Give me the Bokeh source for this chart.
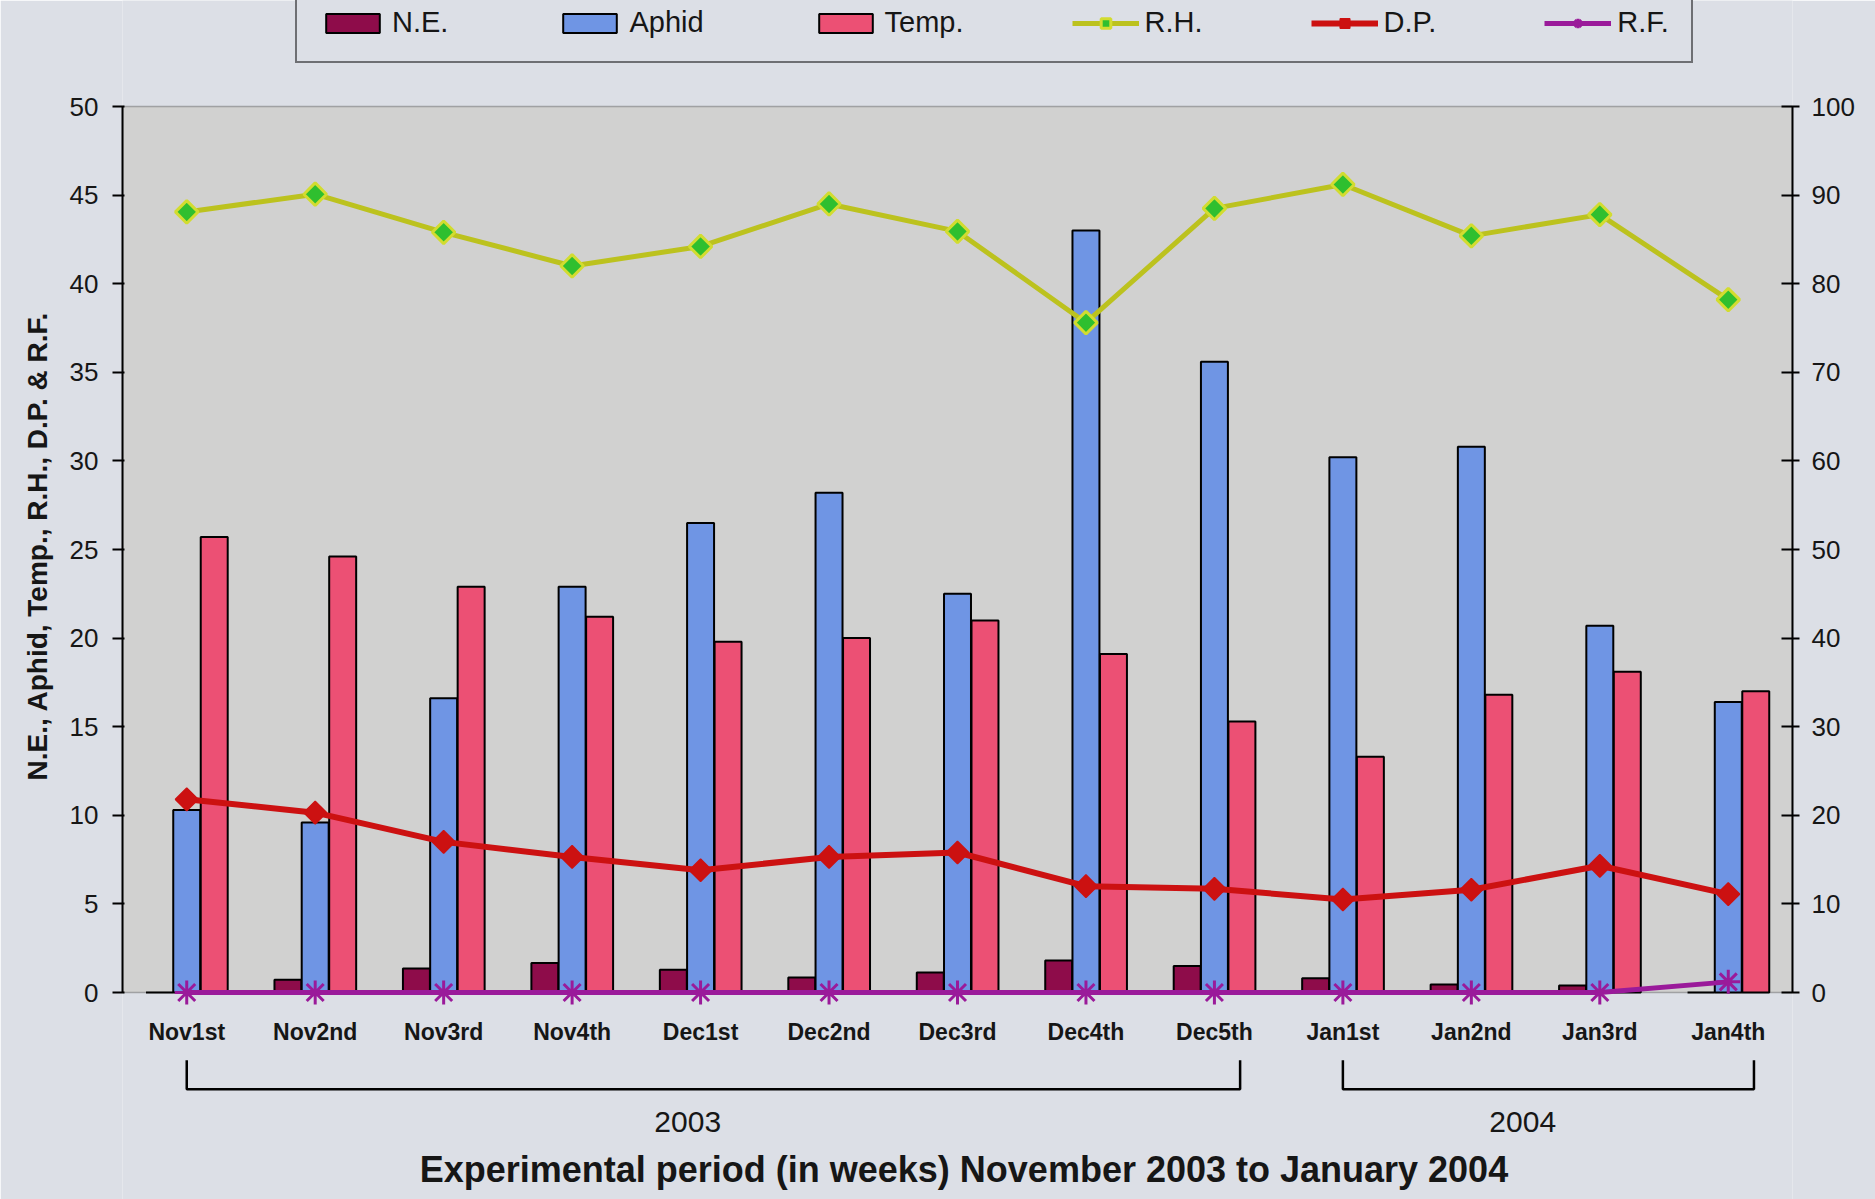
import numpy as np
from bokeh.plotting import figure
from bokeh.models import (Range1d, LinearAxis, FixedTicker, BoxAnnotation, Legend,
                          LegendItem, ColumnDataSource, Title)
from bokeh.transform import dodge
from bokeh.core.properties import value
from bokeh.embed import file_html
from bokeh.resources import INLINE

# ---------------- data ----------------
weeks = ["Nov1st", "Nov2nd", "Nov3rd", "Nov4th", "Dec1st", "Dec2nd", "Dec3rd",
         "Dec4th", "Dec5th", "Jan1st", "Jan2nd", "Jan3rd", "Jan4th"]
ne = [0.0, 0.72, 1.36, 1.66, 1.28, 0.85, 1.13, 1.8, 1.5, 0.8, 0.45, 0.4, 0.0]
aphid = [10.3, 9.6, 16.6, 22.9, 26.5, 28.2, 22.5, 43.0, 35.6, 30.2, 30.8, 20.7, 16.4]
temp = [25.7, 24.6, 22.9, 21.2, 19.8, 20.0, 21.0, 19.1, 15.3, 13.3, 16.8, 18.1, 17.0]
rh = [88.1, 90.1, 85.8, 82.0, 84.2, 89.0, 85.9, 75.6, 88.5, 91.2, 85.4, 87.8, 78.2]
dp = [21.8, 20.3, 17.0, 15.3, 13.8, 15.3, 15.8, 12.0, 11.7, 10.5, 11.6, 14.3, 11.1]
rf = [0.0, 0.0, 0.0, 0.0, 0.0, 0.0, 0.0, 0.0, 0.0, 0.0, 0.0, 0.0, 1.2]
years = ["2003", "2004"]
year_first = [0, 9]
year_last = [8, 12]
left_ticks = list(range(0, 51, 5))
right_ticks = list(range(0, 101, 10))
title = "Experimental period (in weeks) November 2003 to January 2004"
ylabel = "N.E., Aphid, Temp., R.H., D.P. & R.F."

# ---------------- style ----------------
PAGE = "#dcdfe6"
PLOT_BG = "#d1d1d0"
NE_C = "#8e0c4a"
APH_C = "#6f95e4"
TMP_C = "#ec5074"
RH_C = "#bcc21e"
RH_M = "#2fbf2f"
DP_C = "#cc1111"
RF_C = "#9a1a9a"
TXT = "#161616"
FONT = "Liberation Sans"

W, H = 1875, 1199
BL, BR = 122, 83
PX = 17.72          # pixels per left-axis unit
TOP_PX, ZERO_PX = 106, 992
y_top = 50 + TOP_PX / PX
y_bot = -(H - ZERO_PX) / PX

n = len(weeks)
xc = np.arange(n) + 0.5
src = ColumnDataSource(dict(x=xc, ne=ne, aphid=aphid, temp=temp, rh=rh, dp=dp, rf=rf))

p = figure(width=W, height=H, x_range=Range1d(0, n), y_range=Range1d(y_bot, y_top),
           x_axis_location=None, y_axis_location="left", toolbar_location=None,
           output_backend="svg", min_border_left=BL, min_border_right=BR,
           min_border_top=0, min_border_bottom=0, background_fill_color=PAGE,
           border_fill_color=PAGE, outline_line_color=None)
p.grid.visible = False

p.extra_y_ranges = {"r": Range1d(2 * y_bot, 2 * y_top)}

# plot area
p.add_layout(BoxAnnotation(bottom=0, top=50, fill_color=PLOT_BG, fill_alpha=1.0,
                           line_color="#222222", line_width=1.5, level="underlay"))

# left axis
ya = p.yaxis[0]
ya.bounds = (0, 50)
ya.ticker = FixedTicker(ticks=left_ticks)
ya.major_label_text_font = FONT
ya.major_label_text_font_size = "26px"
ya.major_label_text_color = TXT
ya.major_label_standoff = 14
ya.axis_line_width = 2
ya.axis_line_color = "black"
ya.major_tick_in = 2
ya.major_tick_out = 10
ya.major_tick_line_width = 2
ya.minor_tick_line_color = None

# vertical axis title, placed beside the 0-50 span
p.add_layout(Title(text=ylabel, align="left", offset=419, standoff=24, vertical_align="top",
                   text_font=FONT, text_font_style="bold", text_font_size="28px",
                   text_color=TXT), "left")

# right axis
ra = LinearAxis(y_range_name="r", bounds=(0, 100), ticker=FixedTicker(ticks=right_ticks))
ra.major_label_text_font = FONT
ra.major_label_text_font_size = "26px"
ra.major_label_text_color = TXT
ra.major_label_standoff = 12
ra.axis_line_width = 2
ra.major_tick_in = 11
ra.major_tick_out = 7
ra.major_tick_line_width = 2
ra.minor_tick_line_color = None
p.add_layout(ra, "right")

# bars
BW = 0.21
r_ne = p.vbar(x=dodge("x", -0.212, range=p.x_range), top="ne", bottom=0, width=BW, source=src,
              fill_color=NE_C, line_color="black", line_width=2)
r_aph = p.vbar(x="x", top="aphid", bottom=0, width=BW, source=src,
               fill_color=APH_C, line_color="black", line_width=2)
r_tmp = p.vbar(x=dodge("x", 0.214, range=p.x_range), top="temp", bottom=0, width=BW, source=src,
               fill_color=TMP_C, line_color="black", line_width=2)

# lines
r_rf_l = p.line("x", "rf", source=src, y_range_name="r", line_color=RF_C, line_width=5)
r_rf_m = p.scatter("x", "rf", source=src, y_range_name="r", marker="asterisk", size=24,
                   line_color=RF_C, line_width=3)
r_dp_l = p.line("x", "dp", source=src, y_range_name="r", line_color=DP_C, line_width=6)
r_dp_m = p.scatter("x", "dp", source=src, y_range_name="r", marker="square", angle=np.pi / 4,
                   size=16, fill_color=DP_C, line_color=DP_C, line_width=1.5)
r_rh_l = p.line("x", "rh", source=src, y_range_name="r", line_color=RH_C, line_width=5)
r_rh_m = p.scatter("x", "rh", source=src, y_range_name="r", marker="square", angle=np.pi / 4,
                   size=16, fill_color=RH_M, line_color="#d2dc30", line_width=3)

# category labels
p.text(x=xc, y=[-2.25] * n, text=weeks, text_font=value(FONT), text_font_style="bold",
       text_font_size="23px", text_align="center", text_baseline="middle", text_color=TXT)

# year brackets
bx, by, yx = [], [], []
for f, l in zip(year_first, year_last):
    a = f + 0.5
    b = l + 0.5 + 0.2
    bx.append([a, a, b, b])
    by.append([-3.83, -5.46, -5.46, -3.83])
    yx.append((a + b) / 2 - 0.2)
p.multi_line(xs=bx, ys=by, line_color="black", line_width=2.5)
p.text(x=yx, y=[-7.3] * len(years), text=years, text_font=value(FONT), text_font_size="30px",
       text_align="center", text_baseline="middle", text_color=TXT)

# title
p.text(x=[n / 2 + 0.05], y=[-10.0], text=[title], text_font=value(FONT), text_font_style="bold",
       text_font_size="36px", text_align="center", text_baseline="middle", text_color=TXT)

# legend
legend = Legend(items=[
    LegendItem(label="N.E.", renderers=[r_ne]),
    LegendItem(label="Aphid", renderers=[r_aph]),
    LegendItem(label="Temp.", renderers=[r_tmp]),
    LegendItem(label="R.H.", renderers=[r_rh_l, r_rh_m]),
    LegendItem(label="D.P.", renderers=[r_dp_l, r_dp_m]),
    LegendItem(label="R.F.", renderers=[r_rf_l, r_rf_m]),
], orientation="horizontal", location=(173, 1136), padding=22, spacing=108,
    glyph_width=67, glyph_height=24, label_standoff=6, label_text_font=FONT,
    label_text_font_size="29px", label_text_color=TXT, border_line_color="black",
    border_line_width=2, background_fill_color=PAGE, background_fill_alpha=1.0, margin=0)
p.add_layout(legend)

open("out.html", "w").write(file_html(p, INLINE))
